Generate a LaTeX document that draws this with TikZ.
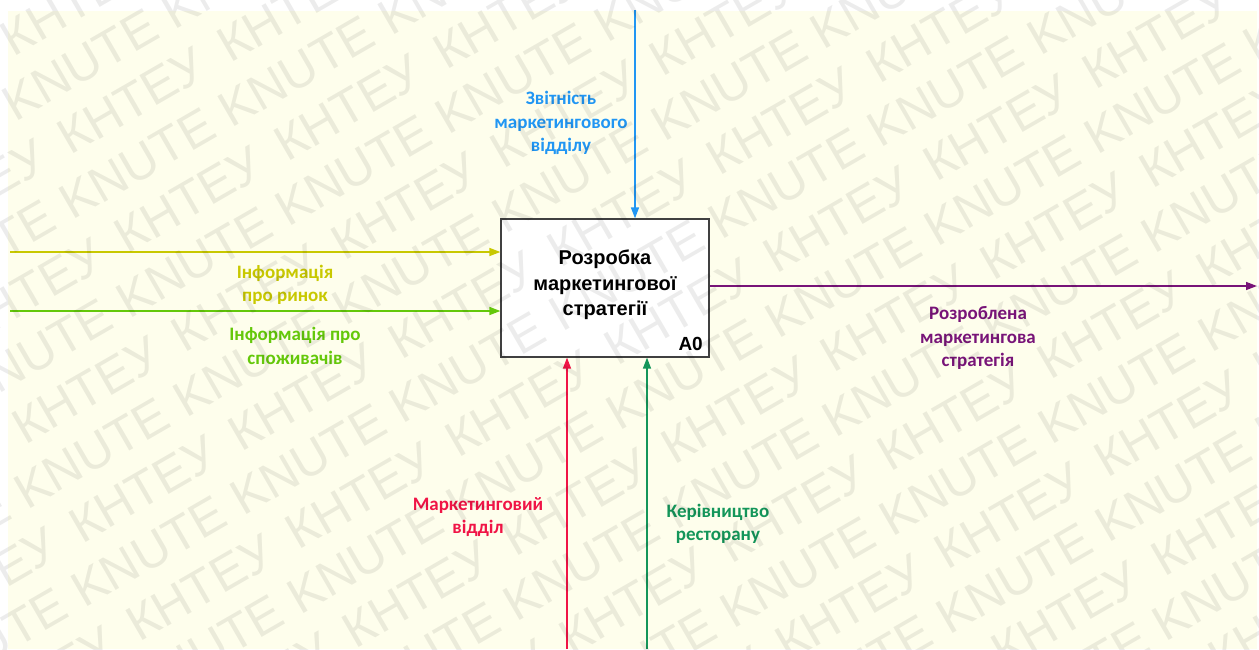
\documentclass[tikz,border=0pt]{standalone}
\usepackage{fontspec}
\setmainfont{Liberation Sans}
\newfontfamily\lblfont{Carlito}
\newfontfamily\wmfontfam{Liberation Sans}
\usetikzlibrary{arrows.meta}

\definecolor{cream}{RGB}{254,254,236}
\definecolor{boxgray}{RGB}{64,64,64}
\definecolor{ctlblue}{RGB}{33,150,243}
\definecolor{inyel}{RGB}{200,200,0}
\definecolor{ingrn}{RGB}{100,200,10}
\definecolor{outpur}{RGB}{120,20,120}
\definecolor{mred}{RGB}{240,20,70}
\definecolor{mgrn}{RGB}{20,150,90}

\tikzset{
  flow/.style={line width=1.4pt, -{Triangle[length=11pt,width=8pt]}},
  lbl/.style={font=\lblfont\bfseries\fontsize{19}{23.5}\selectfont, align=center, inner sep=0pt},
  fnbox/.style={draw=boxgray, line width=1.2pt, fill=white,
    minimum width=208pt, minimum height=138pt, inner sep=0pt},
  wm/.style={font=\wmfontfam\fontsize{50}{50}\selectfont, text=black,
    opacity=0.075, rotate=30, anchor=base west, inner sep=0pt},
}

\begin{document}
\begin{tikzpicture}[x=1pt,y=-1pt]
  \useasboundingbox (0,0) rectangle (1259,649);
  \fill[white] (0,0) rectangle (1259,649);
  \fill[cream] (8,11) rectangle (1257,649);

  % activity box A0
  \node[fnbox] (a0) at (605,288) {};
  \node[font=\bfseries\fontsize{20}{25.5}\selectfont, align=center, inner sep=0pt]
    (title) at (605,285) {Розробка\\маркетингової\\стратегії};
  \node[font=\bfseries\fontsize{19}{19}\selectfont, anchor=base east, inner sep=0pt]
    (num) at (703,350) {A0};

  % control (top)
  \coordinate (ctlsrc) at (635,10);
  \draw[flow, ctlblue] (ctlsrc) -- (ctlsrc |- a0.north);
  \node[lbl, text=ctlblue] (ctllbl) at (561,123)
    {Звітність\\маркетингового\\відділу};

  % inputs (left)
  \coordinate (insrc1) at (10,252);
  \draw[flow, inyel] (insrc1) -- (insrc1 -| a0.west);
  \node[lbl, text=inyel] (inlbl1) at (285,285) {Інформація\\про ринок};

  \coordinate (insrc2) at (10,311);
  \draw[flow, ingrn] (insrc2) -- (insrc2 -| a0.west);
  \node[lbl, text=ingrn] (inlbl2) at (295,346) {Інформація про\\споживачів};

  % output (right)
  \coordinate (outdst) at (1257,286);
  \draw[flow, outpur] (outdst -| a0.east) -- (outdst);
  \node[lbl, text=outpur] (outlbl) at (978,338)
    {Розроблена\\маркетингова\\стратегія};

  % mechanisms (bottom)
  \coordinate (mechsrc1) at (567,649);
  \draw[flow, mred] (mechsrc1) -- (mechsrc1 |- a0.south);
  \node[lbl, text=mred] (mechlbl1) at (478,517) {Маркетинговий\\відділ};

  \coordinate (mechsrc2) at (647,649);
  \draw[flow, mgrn] (mechsrc2) -- (mechsrc2 |- a0.south);
  \node[lbl, text=mgrn] (mechlbl2) at (718,524) {Керівництво\\ресторану};

  % diagonal watermark: rows 57pt apart, alternating KNUTE / КНТЕУ,
  % one word every 184pt along the row
  \begin{scope}
    \clip (0,0) rectangle (1259,649);
    \foreach \j in {-16,...,9}{
      \pgfmathtruncatemacro\odd{mod(abs(\j),2)}
      \ifnum\odd=0 \def\wmword{KNUTE}\def\wmshift{0}\else \def\wmword{КНТЕУ}\def\wmshift{31}\fi
      \foreach \k in {-7,...,5}{
        \pgfmathsetmacro\wma{\k*184+\wmshift-3.5}
        \pgfmathsetmacro\wmx{838.3+\j*57*0.5+\wma*0.866}
        \pgfmathsetmacro\wmy{436.7+\j*57*0.866-\wma*0.5}
        \node[wm] (wm\j_\k) at (\wmx,\wmy) {\wmword};
      }
    }
  \end{scope}
\end{tikzpicture}
\end{document}
